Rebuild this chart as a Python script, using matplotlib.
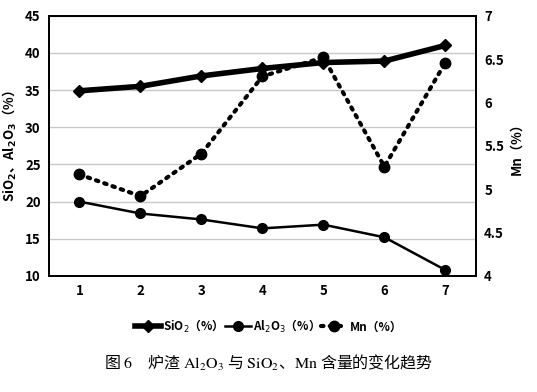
import matplotlib
matplotlib.use("Agg")
import matplotlib.pyplot as plt

plt.rcParams['font.family'] = ['Noto Sans CJK SC', 'DejaVu Sans']
plt.rcParams['mathtext.fontset'] = 'dejavusans'

# sample number
samples = [1, 2, 3, 4, 5, 6, 7]
sio2 = [34.9, 35.5, 36.9, 37.9, 38.7, 38.9, 41.0]
al2o3 = [20.0, 18.4, 17.6, 16.4, 16.9, 15.2, 10.8]
mn = [5.17, 4.92, 5.41, 6.30, 6.52, 5.26, 6.46]

left_ticks = [10, 15, 20, 25, 30, 35, 40, 45]
right_ticks = [4, 4.5, 5, 5.5, 6, 6.5, 7]
right_labels = ['4', '4.5', '5', '5.5', '6', '6.5', '7']

fig = plt.figure(figsize=(5.37, 3.92), dpi=100)
ax = fig.add_axes([0.0912, 0.296, 0.795, 0.664])
ax2 = ax.twinx()

l1, = ax.plot(samples, sio2, color='black', lw=4, marker='D', ms=6,
              label='SiO$_2$（%）')
l2, = ax.plot(samples, al2o3, color='black', lw=1.8, marker='o', ms=7,
              label='Al$_2$O$_3$（%）')
l3, = ax2.plot(samples, mn, color='black', lw=3, ls=(0, (0.6, 1.5)),
               dash_capstyle='round', marker='o', ms=7.5, label='Mn（%）')

ax.set_xlim(0.5, 7.5)
ax.set_ylim(10, 45)
ax.set_yticks(left_ticks)
ax.set_xticks(samples)
ax2.set_ylim(4, 7)
ax2.set_yticks(right_ticks)
ax2.set_yticklabels(right_labels)

ax.grid(axis='y', color='#c8c8c8', lw=1)
ax.set_axisbelow(True)
for a in (ax, ax2):
    for s in a.spines.values():
        s.set_color('black')
        s.set_linewidth(1.3)
    a.tick_params(length=0, labelsize=9.5, pad=6)
    for lab in a.get_xticklabels() + a.get_yticklabels():
        lab.set_fontweight('bold')

ax.set_ylabel(r'SiO$_\mathbf{2}$、Al$_\mathbf{2}$O$_\mathbf{3}$（%）', fontsize=9.5,
              labelpad=4, fontweight='bold')
ax2.set_ylabel('Mn（%）', fontsize=9.5, labelpad=4, fontweight='bold')

leg = fig.legend(handles=[l1, l2, l3], loc='center', bbox_to_anchor=(0.5, 0.168),
                 ncol=3, frameon=False, fontsize=8.5, handlelength=2.2,
                 columnspacing=0.6, handletextpad=0.2)
for t in leg.get_texts():
    t.set_fontweight('bold')

fig.text(0.5, 0.075,
         r'图 $\mathrm{6}$　炉渣 $\mathrm{Al_2O_3}$ 与 $\mathrm{SiO_2}$、$\mathrm{Mn}$ 含量的变化趋势',
         ha='center', va='center', fontsize=11.5, math_fontfamily='stix')

fig.savefig('out.png', dpi=100)
